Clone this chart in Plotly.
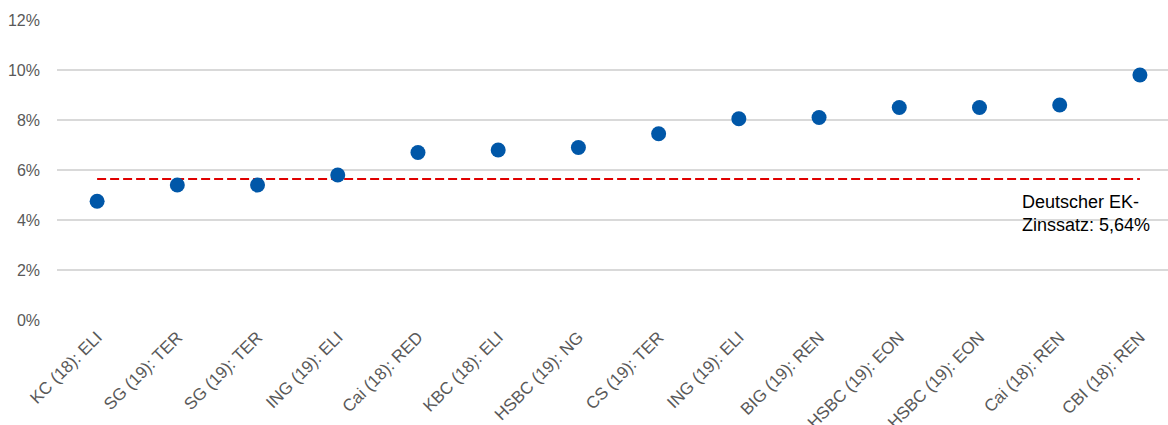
import plotly.graph_objects as go

categories = ["KC (18): ELI", "SG (19): TER", "SG (19): TER", "ING (19): ELI",
              "Cai (18): RED", "KBC (18): ELI", "HSBC (19): NG", "CS (19): TER",
              "ING (19): ELI", "BIG (19): REN", "HSBC (19): EON", "HSBC (19): EON",
              "Cai (18): REN", "CBI (18): REN"]
values = [4.75, 5.4, 5.4, 5.8, 6.7, 6.8, 6.9, 7.45, 8.05, 8.1, 8.5, 8.5, 8.6, 9.8]
de_rate = 5.64
y_ticks = [0, 2, 4, 6, 8, 10, 12]
y_ticklabels = ["0%", "2%", "4%", "6%", "8%", "10%", "12%"]
annotation_text = "Deutscher EK-<br>Zinssatz: 5,64%"

xs = list(range(len(categories)))

fig = go.Figure()
fig.add_trace(go.Scatter(
    x=xs, y=[de_rate] * len(xs), mode="lines",
    line=dict(color="#e00000", width=2, dash="9px,4px"),
    hoverinfo="skip", showlegend=False))
fig.add_trace(go.Scatter(
    x=xs, y=values, mode="markers",
    marker=dict(color="#0057a8", size=15),
    showlegend=False))

fig.add_annotation(
    x=11.5, y=de_rate, xref="x", yref="y", text=annotation_text,
    showarrow=False, xanchor="left", yanchor="top", align="left",
    yshift=-11, font=dict(size=18, color="#000000"))

fig.update_layout(
    width=1168, height=425,
    margin=dict(l=57, r=0, t=20, b=105),
    paper_bgcolor="white", plot_bgcolor="white",
    font=dict(family="Liberation Sans, Arial, sans-serif", color="#595959"),
    xaxis=dict(range=[-0.5, 13.35], tickvals=xs, ticktext=categories,
               tickangle=-45, showgrid=False, zeroline=False,
               tickfont=dict(size=17, color="#595959"), ticks="",
               ticklabelstandoff=3),
    yaxis=dict(range=[0, 12], tickvals=y_ticks, ticktext=y_ticklabels,
               showgrid=True, gridcolor="#d9d9d9", gridwidth=1.5,
               zeroline=False, tickfont=dict(size=16, color="#595959"),
               ticks="", ticklabelstandoff=16),
)
fig.update_yaxes(automargin=False)
fig.update_xaxes(automargin=False)

fig.write_html("out.html")
